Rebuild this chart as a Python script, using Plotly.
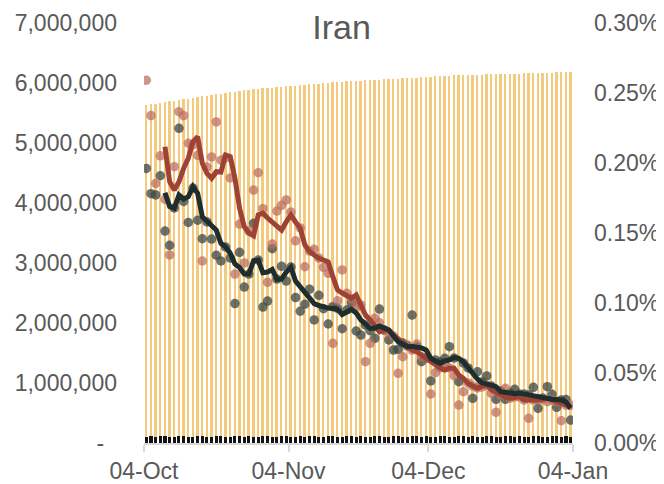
import pandas as pd
import plotly.graph_objects as go

# ---------------- data ----------------
dates = pd.date_range("2020-10-04", periods=92, freq="D")

total_bar = [
    5633000, 5645000, 5657000, 5669000, 5681000, 5693000, 5705000, 5717000, 5729000, 5741000,
    5753000, 5765000, 5776500, 5788000, 5799500, 5811000, 5822500, 5834000, 5845500, 5857000,
    5868500, 5880000, 5891500, 5898100, 5904700, 5911300, 5917900, 5924500, 5931100, 5937700,
    5944300, 5950900, 5957500, 5964100, 5970700, 5977300, 5983900, 5990500, 5997100, 6003700,
    6010300, 6016900, 6021300, 6025700, 6030100, 6034500, 6038900, 6043300, 6047700, 6052100,
    6056500, 6060900, 6065300, 6069700, 6074100, 6078500, 6082900, 6087300, 6091700, 6096100,
    6100500, 6104900, 6109300, 6113700, 6118100, 6122500, 6126900, 6129100, 6131300, 6133500,
    6135700, 6137900, 6140100, 6142300, 6144500, 6146700, 6148900, 6151100, 6153300, 6155500,
    6157700, 6159900, 6162100, 6164300, 6166500, 6168700, 6170900, 6173100, 6175300, 6177500,
    6179700, 6181900,
]

daily_bar = [
    108000, 110000, 107000, 109000, 111000, 108000, 106000, 110000, 109000, 107000,
    108000, 110000, 109000, 107000, 108000, 111000, 109000, 108000, 107000, 110000,
    109000, 108000, 110000, 107000, 108000, 109000, 111000, 108000, 107000, 109000,
    110000, 108000, 107000, 109000, 108000, 110000, 109000, 107000, 108000, 110000,
    109000, 108000, 107000, 109000, 110000, 108000, 109000, 107000, 108000, 110000,
    109000, 108000, 107000, 110000, 109000, 108000, 107000, 109000, 110000, 108000,
    109000, 107000, 108000, 110000, 109000, 108000, 107000, 109000, 110000, 108000,
    109000, 107000, 108000, 110000, 109000, 108000, 107000, 109000, 110000, 108000,
    109000, 107000, 108000, 110000, 109000, 108000, 107000, 109000, 110000, 108000,
    109000, 108000,
]

# percent values (right axis)
dark_points = [
    0.1961, 0.1781, 0.1772, 0.1909, 0.1514, 0.1412, 0.1679, 0.2248, 0.1725, 0.1575,
    0.1821, 0.1591, 0.1459, 0.1579, 0.1457, 0.1341, 0.1300, 0.1400, 0.1321, 0.0996,
    0.1362, 0.1114, 0.1207, 0.1569, 0.1307, 0.0971, 0.1014, 0.1388, 0.1171, 0.1262,
    0.1157, 0.1257, 0.1039, 0.0941, 0.0991, 0.1099, 0.0879, 0.1055, 0.0959, 0.0850,
    0.0974, 0.0962, 0.0816, 0.0950, 0.1000, 0.0800, 0.0771, 0.0843, 0.0802, 0.0748,
    0.0957, 0.0807, 0.0736, 0.0664, 0.0669, 0.0714, 0.0693, 0.0914, 0.0686, 0.0581,
    0.0607, 0.0443, 0.0593, 0.0579, 0.0605, 0.0688, 0.0607, 0.0438, 0.0571, 0.0536,
    0.0319, 0.0509, 0.0436, 0.0479, 0.0407, 0.0312, 0.0371, 0.0312, 0.0357, 0.0384,
    0.0350, 0.0350, 0.0343, 0.0398, 0.0248, 0.0321, 0.0402, 0.0348, 0.0255, 0.0307,
    0.0310, 0.0164,
]

rosy_points = [
    0.2591, 0.2339, 0.1854, 0.2051, 0.1741, 0.1343, 0.1974, 0.2366, 0.2338, 0.2141,
    0.2129, 0.2055, 0.1300, 0.1971, 0.2043, 0.2293, 0.2020, 0.2036, 0.1893, 0.1207,
    0.1564, 0.1286, 0.1514, 0.1807, 0.1931, 0.1674, 0.1148, 0.1421, 0.1657, 0.1698,
    0.1736, 0.1650, 0.1444, 0.1536, 0.1259, 0.1371, 0.1384, 0.1321, 0.1255, 0.1212,
    0.0712, 0.1016, 0.1236, 0.1069, 0.1029, 0.0971, 0.0986, 0.0581, 0.0712, 0.0891,
    0.0859, 0.0807, 0.0786, 0.0764, 0.0498, 0.0616, 0.0700, 0.0664, 0.0707, 0.0616,
    0.0607, 0.0350, 0.0502, 0.0536, 0.0557, 0.0536, 0.0481, 0.0271, 0.0366, 0.0429,
    0.0407, 0.0393, 0.0400, 0.0414, 0.0355, 0.0219, 0.0343, 0.0391, 0.0321, 0.0329,
    0.0329, 0.0307, 0.0176, 0.0307, 0.0307, 0.0314, 0.0295, 0.0307, 0.0293, 0.0159,
    0.0271, 0.0271,
]

dark_line = [
    None, None, None, None, 0.1788, 0.1688, 0.1676, 0.1771, 0.1743, 0.1759,
    0.1831, 0.1784, 0.1616, 0.1581, 0.1550, 0.1521, 0.1426, 0.1402, 0.1355, 0.1279,
    0.1254, 0.1207, 0.1207, 0.1302, 0.1307, 0.1216, 0.1221, 0.1239, 0.1169, 0.1171,
    0.1221, 0.1255, 0.1157, 0.1114, 0.1069, 0.1029, 0.0995, 0.0982, 0.0971, 0.0964,
    0.0961, 0.0955, 0.0918, 0.0936, 0.0955, 0.0929, 0.0879, 0.0850, 0.0819, 0.0821,
    0.0836, 0.0821, 0.0807, 0.0764, 0.0724, 0.0707, 0.0688, 0.0690, 0.0686, 0.0679,
    0.0664, 0.0605, 0.0586, 0.0569, 0.0586, 0.0593, 0.0611, 0.0604, 0.0579, 0.0534,
    0.0493, 0.0457, 0.0431, 0.0421, 0.0411, 0.0402, 0.0366, 0.0361, 0.0355, 0.0352,
    0.0356, 0.0350, 0.0343, 0.0331, 0.0325, 0.0319, 0.0318, 0.0312, 0.0311, 0.0307,
    0.0293, 0.0250,
]

brown_line = [
    None, None, None, None, 0.2116, 0.1866, 0.1807, 0.1866, 0.1962, 0.2034,
    0.2152, 0.2188, 0.1998, 0.1926, 0.1891, 0.1938, 0.1935, 0.2057, 0.2045, 0.1891,
    0.1676, 0.1545, 0.1500, 0.1480, 0.1629, 0.1641, 0.1607, 0.1579, 0.1545, 0.1521,
    0.1579, 0.1629, 0.1579, 0.1534, 0.1414, 0.1366, 0.1343, 0.1319, 0.1307, 0.1293,
    0.1188, 0.1093, 0.1071, 0.1057, 0.1034, 0.1057, 0.0986, 0.0914, 0.0879, 0.0843,
    0.0795, 0.0807, 0.0807, 0.0771, 0.0743, 0.0712, 0.0686, 0.0664, 0.0652, 0.0629,
    0.0605, 0.0579, 0.0557, 0.0536, 0.0521, 0.0534, 0.0534, 0.0486, 0.0462, 0.0426,
    0.0407, 0.0391, 0.0404, 0.0414, 0.0379, 0.0361, 0.0343, 0.0329, 0.0319, 0.0325,
    0.0331, 0.0307, 0.0307, 0.0305, 0.0307, 0.0314, 0.0319, 0.0307, 0.0295, 0.0286,
    0.0271, 0.0248,
]

left_tickvals = [0, 1000000, 2000000, 3000000, 4000000, 5000000, 6000000, 7000000]
left_ticktext = ["-\u00a0\u00a0", "1,000,000", "2,000,000", "3,000,000", "4,000,000",
                 "5,000,000", "6,000,000", "7,000,000"]
right_tickvals = [0, 0.05, 0.10, 0.15, 0.20, 0.25, 0.30]
right_ticktext = ["0.00%", "0.05%", "0.10%", "0.15%", "0.20%", "0.25%", "0.30%"]
x_tickvals = ["2020-10-04", "2020-11-04", "2020-12-04", "2021-01-04"]
x_ticktext = ["04-Oct", "04-Nov", "04-Dec", "04-Jan"]

# ---------------- figure ----------------
DAY = 86400000
FONT = "Liberation Sans, Arial, sans-serif"
GREY = "#595959"
W, H = 656, 476   # page body has an 8px margin

fig = go.Figure()
fig.add_trace(go.Bar(x=dates, y=total_bar, width=0.4 * DAY, marker_color="#F3CA7E",
                     marker_line_width=0, xperiod=DAY, xperiodalignment="middle",
                     hoverinfo="skip"))
fig.add_trace(go.Bar(x=dates, y=daily_bar, width=0.65 * DAY, marker_color="#141414",
                     marker_line_width=0, xperiod=DAY, xperiodalignment="middle",
                     hoverinfo="skip"))
fig.add_trace(go.Scatter(x=dates, y=dark_points, mode="markers", yaxis="y2",
                         xperiod=DAY, xperiodalignment="middle",
                         marker=dict(size=9.5, color="#3A4644", opacity=0.75)))
fig.add_trace(go.Scatter(x=dates, y=rosy_points, mode="markers", yaxis="y2",
                         xperiod=DAY, xperiodalignment="middle",
                         marker=dict(size=9.5, color="#BA6C5E", opacity=0.72)))
fig.add_trace(go.Scatter(x=dates, y=brown_line, mode="lines", yaxis="y2",
                         xperiod=DAY, xperiodalignment="middle",
                         line=dict(color="#9E4236", width=5)))
fig.add_trace(go.Scatter(x=dates, y=dark_line, mode="lines", yaxis="y2",
                         xperiod=DAY, xperiodalignment="middle",
                         line=dict(color="#1E2D2D", width=5)))

fig.update_layout(
    width=W, height=H,
    margin=dict(l=136, r=91, t=15, b=41),
    paper_bgcolor="white", plot_bgcolor="white",
    barmode="overlay", bargap=0, showlegend=False,
    font=dict(family=FONT, color=GREY, size=23),
    title=dict(text="Iran", x=333.5 / W, y=1 - 19 / H, xref="container", yref="container",
               xanchor="center", yanchor="middle",
               font=dict(family=FONT, size=34, color=GREY)),
    xaxis=dict(type="date", range=["2020-10-04", "2021-01-04"],
               tickvals=x_tickvals, ticktext=x_ticktext, automargin=False,
               showgrid=False, zeroline=False,
               showline=True, linecolor="#D9D9D9", linewidth=1.5,
               ticks="outside", ticklen=7, tickcolor="#D9D9D9", tickwidth=1.5,
               tickfont=dict(size=23, color=GREY)),
    yaxis=dict(range=[0, 7000000], tickvals=left_tickvals, ticktext=left_ticktext,
               showgrid=False, zeroline=False, showline=False, automargin=False,
               ticklabelstandoff=26, tickfont=dict(size=23, color=GREY)),
    yaxis2=dict(range=[0, 0.30], overlaying="y", side="right",
                tickvals=right_tickvals, ticktext=right_ticktext, automargin=False,
                showgrid=False, zeroline=False, showline=False,
                ticklabelstandoff=20, tickfont=dict(size=23, color=GREY)),
)

fig.write_html("out.html")
